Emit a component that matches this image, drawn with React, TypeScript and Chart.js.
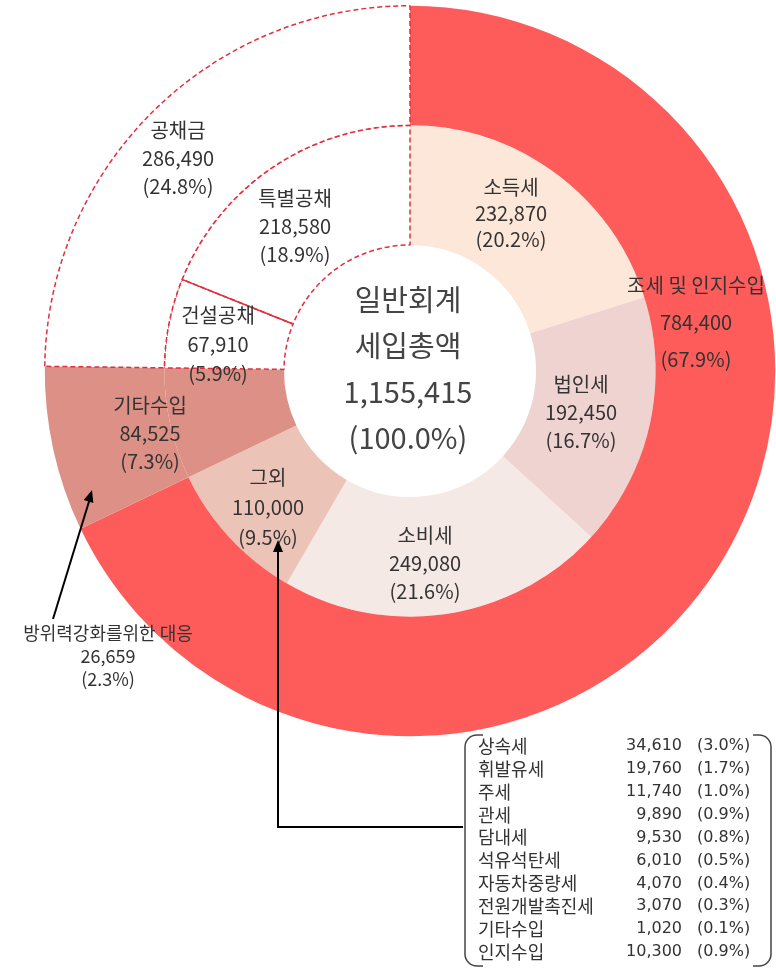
import React, { useEffect, useRef } from "react";
import { Chart, registerables } from "chart.js";

Chart.register(...registerables);

// ---------- data ----------
const centerTitle = ["일반회계", "세입총액"];
const totalValue = 1155415;

const outerLabels = ["조세 및 인지수입", "기타수입", "공채금"];
const outerValues = [784400, 84525, 286490];

const innerLabels = ["소득세", "법인세", "소비세", "그외", "기타수입", "건설공채", "특별공채"];
const innerValues = [232870, 192450, 249080, 110000, 84525, 67910, 218580];

const defenseLabel = "방위력강화를위한 대응";
const defenseValue = 26659;

const otherTaxNames = [
  "상속세", "휘발유세", "주세", "관세", "담내세",
  "석유석탄세", "자동차중량세", "전원개발촉진세", "기타수입", "인지수입",
];
const otherTaxValues = [34610, 19760, 11740, 9890, 9530, 6010, 4070, 3070, 1020, 10300];

// ---------- styles ----------
const outerColors = ["#fe5b5b", "#dd9085", "#ffffff"];
const innerColors = ["#fde7d9", "#efd3d1", "#f5e9e6", "#ecc3b7", "#dd9085", "#ffffff", "#ffffff"];
const outerDashed = [false, false, true];
const innerDashed = [false, false, false, false, false, true, true];
const DASH_COLOR = "#e0303f";
const TEXT_COLOR = "#333333";
const FONT = '"Noto Sans CJK KR", "Noto Sans", sans-serif';

const fmtNum = (v: number) => v.toLocaleString("en-US");
const fmtPct = (v: number) => "(" + ((v / totalValue) * 100).toFixed(1) + "%)";

function drawArrowHead(ctx: CanvasRenderingContext2D, x1: number, y1: number, x2: number, y2: number) {
  const ang = Math.atan2(y2 - y1, x2 - x1);
  const len = 12;
  const w = 5;
  ctx.beginPath();
  ctx.moveTo(x2, y2);
  ctx.lineTo(x2 - len * Math.cos(ang) + w * Math.sin(ang), y2 - len * Math.sin(ang) - w * Math.cos(ang));
  ctx.lineTo(x2 - len * Math.cos(ang) - w * Math.sin(ang), y2 - len * Math.sin(ang) + w * Math.cos(ang));
  ctx.closePath();
  ctx.fill();
}

const overlayPlugin = {
  id: "overlay",
  afterDatasetsDraw(chart: any) {
    const ctx: CanvasRenderingContext2D = chart.ctx;
    const innerMeta = chart.getDatasetMeta(1);
    const sep = innerMeta.data[6];
    const { x: cx, y: cy, startAngle, innerRadius, outerRadius } = sep.getProps(
      ["x", "y", "startAngle", "innerRadius", "outerRadius"],
      true
    );

    ctx.save();
    // solid separator between 건설공채 and 특별공채
    ctx.strokeStyle = DASH_COLOR;
    ctx.lineWidth = 1.5;
    ctx.setLineDash([]);
    ctx.beginPath();
    ctx.moveTo(cx + Math.cos(startAngle) * innerRadius, cy + Math.sin(startAngle) * innerRadius);
    ctx.lineTo(cx + Math.cos(startAngle) * outerRadius, cy + Math.sin(startAngle) * outerRadius);
    ctx.stroke();

    ctx.fillStyle = TEXT_COLOR;
    ctx.textAlign = "center";
    ctx.textBaseline = "middle";

    const block = (lines: string[], dx: number, dy: number, step: number, size: number) => {
      ctx.font = `${size}px ${FONT}`;
      lines.forEach((t, i) => ctx.fillText(t, cx + dx, cy + dy + i * step));
    };

    const ringBlock = (label: string, value: number, dx: number, dy: number, step = 28) =>
      block([label, fmtNum(value), fmtPct(value)], dx, dy, step, 20);

    // outer ring labels
    ringBlock(outerLabels[0], outerValues[0], 286, -86, 37);
    ringBlock(outerLabels[1], outerValues[1], -260, 34, 28);
    ringBlock(outerLabels[2], outerValues[2], -232, -241, 28);

    // inner ring labels
    ringBlock(innerLabels[0], innerValues[0], 101, -184, 26);
    ringBlock(innerLabels[1], innerValues[1], 171, 13, 28);
    ringBlock(innerLabels[2], innerValues[2], 15, 164, 28);
    ringBlock(innerLabels[3], innerValues[3], -142, 106, 30);
    ringBlock(innerLabels[5], innerValues[5], -192, -56, 29);
    ringBlock(innerLabels[6], innerValues[6], -115, -173, 28);

    // center
    ctx.fillStyle = "#444";
    block([centerTitle[0], centerTitle[1], fmtNum(totalValue), "(100.0%)"], -2, -71, 46, 29);

    // defense annotation
    ctx.fillStyle = TEXT_COLOR;
    block([defenseLabel, fmtNum(defenseValue), fmtPct(defenseValue)], -302, 262, 23, 18);

    // arrows
    ctx.strokeStyle = "#000";
    ctx.fillStyle = "#000";
    ctx.lineWidth = 2;
    ctx.beginPath();
    ctx.moveTo(cx - 357, cy + 248);
    ctx.lineTo(cx - 319, cy + 124);
    ctx.stroke();
    drawArrowHead(ctx, cx - 357, cy + 248, cx - 318, cy + 119);

    ctx.beginPath();
    ctx.moveTo(cx + 53, cy + 456);
    ctx.lineTo(cx - 132, cy + 456);
    ctx.lineTo(cx - 132, cy + 180);
    ctx.stroke();
    drawArrowHead(ctx, cx - 132, cy + 200, cx - 132, cy + 169);

    // table brackets
    const bx1 = cx + 55, bx2 = cx + 361, by1 = cy + 364, by2 = cy + 595, r = 12;
    ctx.strokeStyle = "#444";
    ctx.lineWidth = 1.5;
    ctx.beginPath();
    ctx.moveTo(bx1 + 18, by1);
    ctx.lineTo(bx1 + r, by1);
    ctx.arcTo(bx1, by1, bx1, by1 + r, r);
    ctx.lineTo(bx1, by2 - r);
    ctx.arcTo(bx1, by2, bx1 + r, by2, r);
    ctx.lineTo(bx1 + 18, by2);
    ctx.stroke();
    ctx.beginPath();
    ctx.moveTo(bx2 - 18, by1);
    ctx.lineTo(bx2 - r, by1);
    ctx.arcTo(bx2, by1, bx2, by1 + r, r);
    ctx.lineTo(bx2, by2 - r);
    ctx.arcTo(bx2, by2, bx2 - r, by2, r);
    ctx.lineTo(bx2 - 18, by2);
    ctx.stroke();

    // table rows
    ctx.fillStyle = "#333";
    otherTaxNames.forEach((name, i) => {
      const yy = cy + 375 + i * 22.9;
      ctx.textAlign = "left";
      ctx.font = `18px ${FONT}`;
      ctx.fillText(name, cx + 68, yy);
      ctx.font = `16px "DejaVu Sans", sans-serif`;
      ctx.textAlign = "right";
      ctx.fillText(fmtNum(otherTaxValues[i]), cx + 272, yy);
      ctx.textAlign = "left";
      ctx.fillText(fmtPct(otherTaxValues[i]), cx + 287, yy);
    });

    ctx.restore();
  },
};

export default function App() {
  const canvasRef = useRef<HTMLCanvasElement | null>(null);

  useEffect(() => {
    if (!canvasRef.current) return;
    const dashFn = (flags: boolean[]) => (c: any) => (flags[c.dataIndex] ? [5, 3] : []);
    const widthFn = (flags: boolean[]) => (c: any) => (flags[c.dataIndex] ? 1.5 : 0);
    const chart = new Chart(canvasRef.current, {
      type: "doughnut",
      data: {
        labels: innerLabels,
        datasets: [
          {
            label: "outer",
            data: outerValues,
            backgroundColor: outerColors,
            borderColor: DASH_COLOR,
            borderWidth: widthFn(outerDashed),
            hoverBorderWidth: widthFn(outerDashed),
            borderDash: dashFn(outerDashed),
          } as any,
          {
            label: "inner",
            data: innerValues,
            backgroundColor: innerColors,
            borderColor: DASH_COLOR,
            borderWidth: widthFn(innerDashed),
            hoverBorderWidth: widthFn(innerDashed),
            borderDash: dashFn(innerDashed),
          } as any,
        ],
      },
      options: {
        responsive: false,
        animation: false,
        events: [],
        cutout: "34.5%",
        layout: { padding: { left: 44, top: 5, right: 0, bottom: 233 } },
        plugins: {
          legend: { display: false },
          tooltip: { enabled: false },
          title: { display: false },
        },
      },
      plugins: [overlayPlugin],
    });
    return () => chart.destroy();
  }, []);

  return (
    <div style={{ position: "absolute", left: 0, top: 0, width: 776, height: 970, background: "#fff" }}>
      <canvas ref={canvasRef} width={776} height={970} style={{ display: "block" }} />
    </div>
  );
}
